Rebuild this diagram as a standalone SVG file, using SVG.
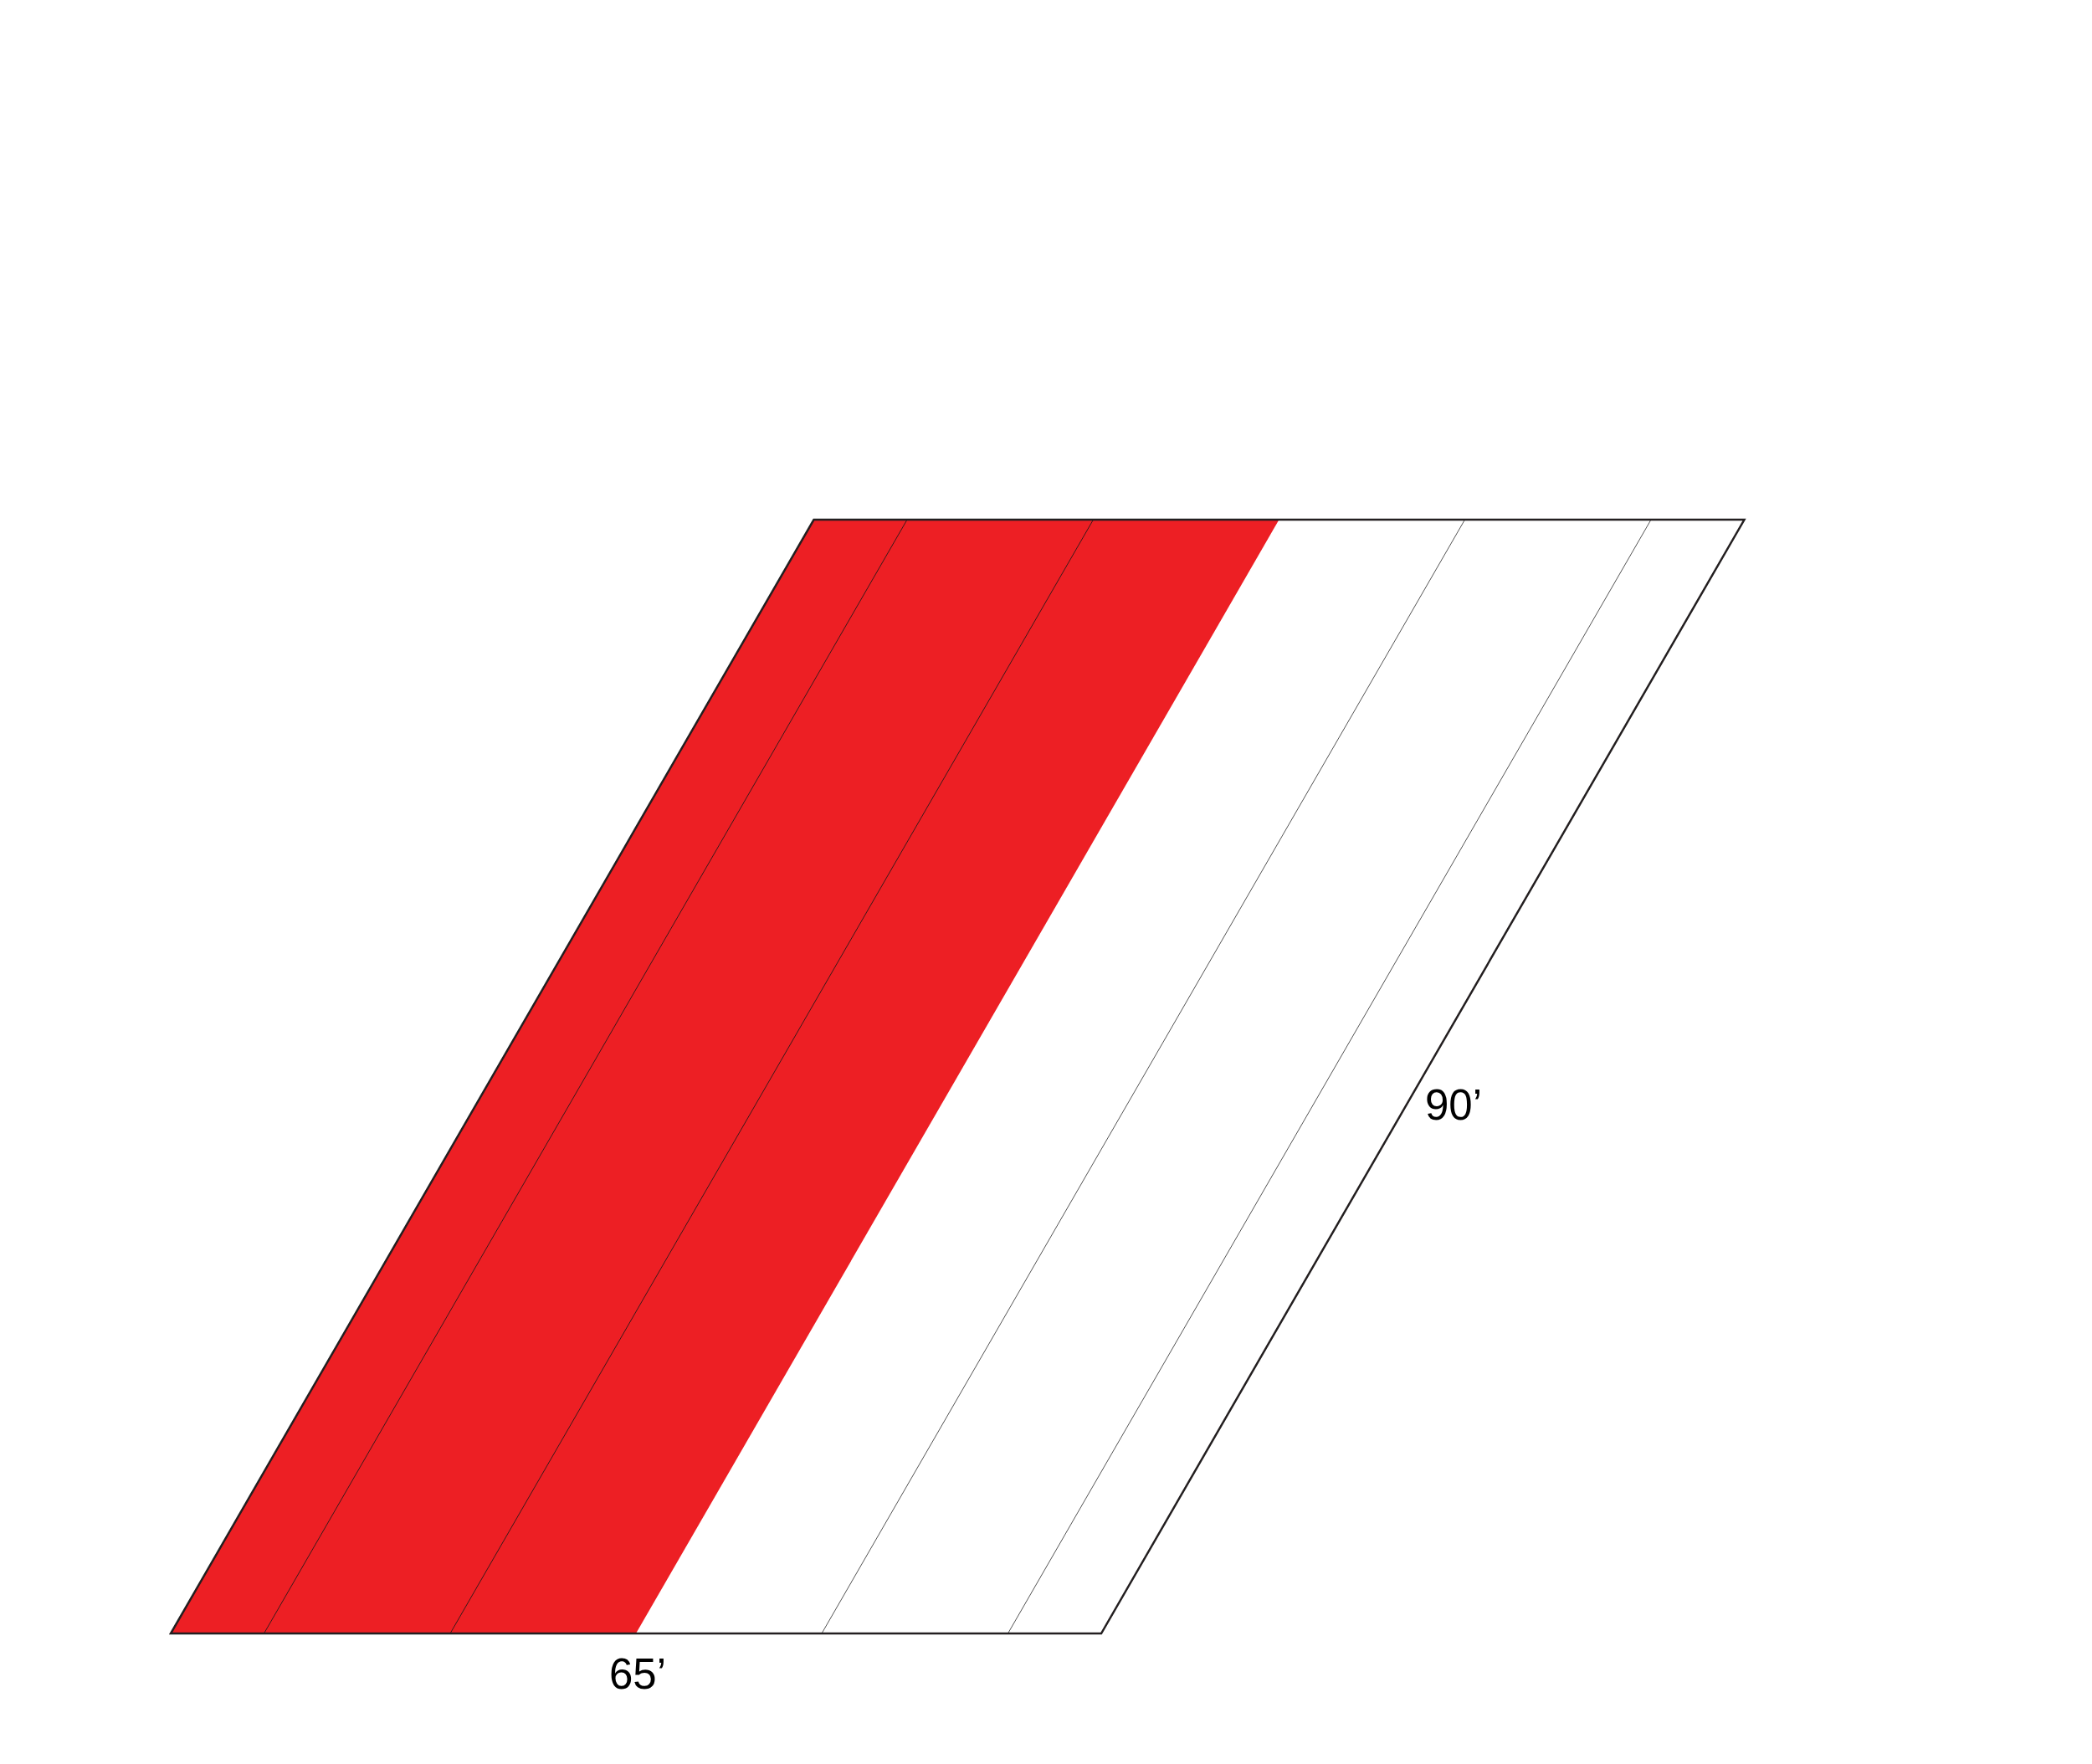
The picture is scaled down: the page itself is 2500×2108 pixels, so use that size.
<svg xmlns="http://www.w3.org/2000/svg" width="2500" height="2108" viewBox="0 0 2500 2108">
<style>
.red{fill:#ED1F24;stroke:none}
.div{stroke:#555;stroke-width:1;fill:none}
.divr{stroke:#3a1a1a;stroke-width:1;fill:none}
.out{fill:none;stroke:#231F20;stroke-width:2.5;stroke-linejoin:miter}
.lbl{font-family:"Liberation Sans",Arial,sans-serif;font-size:51px;fill:#000}
</style>
<rect width="2500" height="2108" fill="#fff"/>
<g id="field">
<polygon class="red" points="204,1952 760,1952 1528.5,621 972.5,621"/>
<line class="divr" x1="315.5" y1="1952" x2="1084" y2="621"/>
<line class="divr" x1="538" y1="1952" x2="1306.5" y2="621"/>
<line class="div" x1="982" y1="1952" x2="1750.5" y2="621"/>
<line class="div" x1="1204.5" y1="1952" x2="1973" y2="621"/>
<polygon class="out" points="204,1952 1316,1952 2084.5,621 972.5,621"/>
</g>
<g id="labels">
<text class="lbl" x="762" y="2018" text-anchor="middle">65’</text>
<text class="lbl" x="1703" y="1338">90’</text>
</g>
</svg>
